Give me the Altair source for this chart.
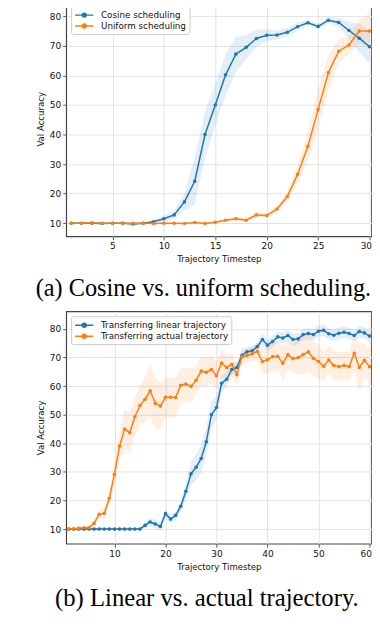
import altair as alt
import pandas as pd

# ---------------- data: panel (a) ----------------
steps_a = list(range(1, 31))
cosine_mean = [10.0, 10.0, 10.0, 9.9, 10.0, 10.0, 9.7, 10.0, 10.5, 11.5,
               12.8, 17.2, 24.2, 40.0, 50.0, 60.2, 67.2, 69.5, 72.5, 73.6,
               73.7, 74.6, 76.5, 77.8, 76.6, 78.7, 77.9, 75.2, 72.6, 69.7]
cosine_std = [0.3, 0.3, 0.3, 0.3, 0.3, 0.3, 0.4, 0.4, 0.6, 1.0,
              1.2, 3.0, 8.0, 8.0, 7.0, 7.0, 6.0, 4.0, 3.0, 2.0,
              1.5, 1.5, 1.5, 1.0, 1.0, 1.0, 1.5, 3.0, 5.0, 5.5]
uniform_mean = [10.0, 10.0, 10.1, 10.0, 10.0, 10.0, 10.0, 10.0, 9.9, 10.0,
                10.0, 9.9, 10.2, 9.9, 10.3, 11.0, 11.5, 11.0, 12.8, 12.6,
                14.8, 19.0, 26.5, 36.0, 48.5, 61.0, 68.2, 70.3, 75.0, 75.0]
uniform_std = [0.2, 0.2, 0.2, 0.2, 0.2, 0.2, 0.2, 0.2, 0.2, 0.2,
               0.2, 0.2, 0.2, 0.3, 0.4, 0.5, 0.6, 0.6, 1.0, 0.8,
               1.0, 1.5, 3.0, 5.0, 7.0, 6.0, 4.0, 3.0, 4.0, 6.0]
series_a = ["Cosine scheduling", "Uniform scheduling"]

# ---------------- data: panel (b) ----------------
steps_b = list(range(1, 61))
linear_mean = [10.0, 10.0, 10.0, 10.0, 10.0, 10.0, 10.0, 10.0, 10.0, 10.0,
               10.0, 10.0, 10.0, 10.0, 10.0, 11.3, 12.5, 11.8, 10.9, 15.4,
               13.5, 14.8, 18.0, 23.2, 29.3, 31.6, 34.7, 40.5, 50.0, 52.5,
               61.0, 62.4, 65.8, 66.5, 70.8, 72.0, 72.3, 73.8, 76.3, 74.3,
               75.6, 77.2, 76.8, 77.7, 76.3, 76.5, 78.0, 78.4, 78.0, 79.2,
               79.5, 78.3, 77.8, 78.5, 78.8, 78.4, 77.7, 79.1, 78.6, 77.5]
linear_std = [0.2, 0.2, 0.2, 0.2, 0.2, 0.2, 0.2, 0.2, 0.2, 0.2,
              0.2, 0.2, 0.2, 0.2, 0.3, 1.0, 1.5, 1.5, 1.5, 1.5,
              1.5, 1.5, 2.0, 3.0, 4.0, 4.5, 5.0, 5.0, 5.0, 4.0,
              3.0, 2.5, 2.0, 2.0, 1.5, 1.5, 1.5, 1.5, 2.0, 2.0,
              2.0, 2.0, 2.0, 2.0, 2.0, 2.0, 2.0, 2.0, 2.0, 2.0,
              2.0, 2.0, 2.0, 2.0, 2.0, 2.0, 2.0, 2.0, 2.0, 2.0]
actual_mean = [10.0, 10.0, 10.3, 10.5, 10.5, 12.0, 15.2, 15.5, 20.8, 29.2,
               39.0, 45.0, 43.7, 49.3, 53.2, 55.4, 58.4, 54.0, 53.0, 56.1,
               56.1, 56.0, 60.3, 60.7, 59.9, 62.0, 65.3, 64.8, 65.8, 63.6,
               68.1, 66.5, 67.6, 64.0, 70.3, 70.7, 71.3, 72.1, 68.6, 69.2,
               70.3, 70.4, 68.0, 71.0, 69.6, 70.0, 71.0, 72.0, 69.7, 68.6,
               66.9, 69.1, 67.2, 66.8, 67.2, 66.8, 71.5, 66.5, 69.0, 66.8]
actual_std = [0.5, 0.5, 0.5, 0.5, 0.6, 1.0, 1.5, 2.0, 2.5, 3.5,
              5.0, 7.0, 7.0, 7.0, 7.0, 8.0, 9.0, 9.0, 8.0, 7.0,
              7.0, 7.0, 6.0, 6.0, 6.0, 5.0, 5.0, 5.0, 5.0, 5.0,
              5.0, 4.0, 4.0, 4.0, 3.0, 2.5, 2.5, 3.0, 4.0, 5.0,
              5.0, 5.0, 6.0, 5.0, 5.0, 6.0, 7.0, 7.0, 6.0, 6.0,
              5.0, 5.0, 5.0, 5.0, 5.0, 5.0, 6.0, 8.0, 6.0, 6.0]
series_b = ["Transferring linear trajectory", "Transferring actual trajectory"]

y_ticks = [10, 20, 30, 40, 50, 60, 70, 80]
x_ticks_a = [5, 10, 15, 20, 25, 30]
x_ticks_b = [10, 20, 30, 40, 50, 60]
colors = ["#1f77b4", "#ff7f0e"]

caption_a = "(a) Cosine vs. uniform scheduling."
caption_b = "(b) Linear vs. actual trajectory."


def long_df(steps, names, means, stds):
    rows = []
    for name, m, s in zip(names, means, stds):
        for t, mv, sv in zip(steps, m, s):
            rows.append({"t": t, "series": name, "mean": mv,
                         "lo": mv - sv, "hi": mv + sv})
    return pd.DataFrame(rows)


df_a = long_df(steps_a, series_a, [cosine_mean, uniform_mean], [cosine_std, uniform_std])
df_b = long_df(steps_b, series_b, [linear_mean, actual_mean], [linear_std, actual_std])

# legend glyph: a short line with a dot in its middle (matplotlib style)
LEG_SYMBOL = ("M-1,0L2.66,0M1.23,0A0.4,0.4 0 1 1 0.43,0"
              "A0.4,0.4 0 1 1 1.23,0Z")


def panel(df, names, xdomain, ydomain, xticks, width, height, caption,
          cap_offset, cap_size, cap_dx):
    legend = alt.Legend(
        title=None, orient="top-left", offset=5, padding=3,
        strokeColor="#cccccc", fillColor="#ffffff", cornerRadius=2,
        labelFont="DejaVu Sans", labelFontSize=8.8, labelColor="#111111",
        symbolType=LEG_SYMBOL, symbolSize=100, symbolStrokeWidth=1.5,
        symbolOpacity=1, rowPadding=0, labelOffset=15,
    )
    cscale = alt.Scale(domain=names, range=colors)
    xenc = alt.X("t:Q", scale=alt.Scale(domain=xdomain, nice=False, zero=False),
                 axis=alt.Axis(values=xticks, title="Trajectory Timestep", format="d",
                               labelFlush=4, labelFlushOffset=2))
    yaxis = alt.Axis(values=y_ticks, title="Val Accuracy", format="d")
    yscale = alt.Scale(domain=ydomain, nice=False, zero=False)
    base = alt.Chart(df)
    band = base.mark_area(fillOpacity=0.12, clip=True).encode(
        x=xenc,
        y=alt.Y("lo:Q", scale=yscale, axis=yaxis),
        y2="hi:Q",
        fill=alt.Fill("series:N", scale=cscale, legend=legend, sort=names),
    )
    line = base.mark_line(strokeWidth=1.5, clip=True).encode(
        x=xenc,
        y=alt.Y("mean:Q", scale=yscale, axis=yaxis),
        stroke=alt.Stroke("series:N", scale=cscale, legend=legend, sort=names),
    )
    pts = base.mark_circle(size=13, opacity=1, clip=True).encode(
        x=xenc,
        y=alt.Y("mean:Q", scale=yscale, axis=yaxis),
        fill=alt.Fill("series:N", scale=cscale, legend=legend, sort=names),
    )
    return alt.layer(band, line, pts).properties(
        width=width, height=height,
        title=alt.TitleParams(
            text=caption, orient="bottom", anchor="middle", frame="bounds",
            font="Liberation Serif", fontSize=cap_size, fontWeight="normal",
            color="#000000", offset=cap_offset, dx=cap_dx,
        ),
    )


top = panel(df_a, series_a, [0.5, 30.19], [5.52, 85.12], x_ticks_a, 307, 236.5,
            caption_a, 14, 24.4, -0.5)
bottom = panel(df_b, series_b, [0.532, 60.39], [4.89, 86.15], x_ticks_b, 307, 233.7,
               caption_b, 16, 24.8, 3)

chart = alt.vconcat(top, bottom, spacing=8.8).properties(
    padding={"left": 26.5, "top": -9.5, "right": -0.5, "bottom": 0},
).resolve_scale(fill="independent", stroke="independent", x="independent", y="independent"
).configure_view(
    stroke="#444444", strokeWidth=1.2,
).configure_axis(
    domain=False,
    grid=True, gridColor="#e3e3e3", gridWidth=1,
    ticks=True, tickColor="#333333", tickSize=3.5, tickWidth=0.8,
    labelFont="DejaVu Sans", labelFontSize=9, labelColor="#111111", labelPadding=2,
    titleFont="DejaVu Sans", titleFontSize=8.6, titleFontWeight="normal",
    titleColor="#111111", titlePadding=4,
).configure_concat(spacing=8.8)

chart.save("out.html", embed_options={"renderer": "svg", "actions": False})
